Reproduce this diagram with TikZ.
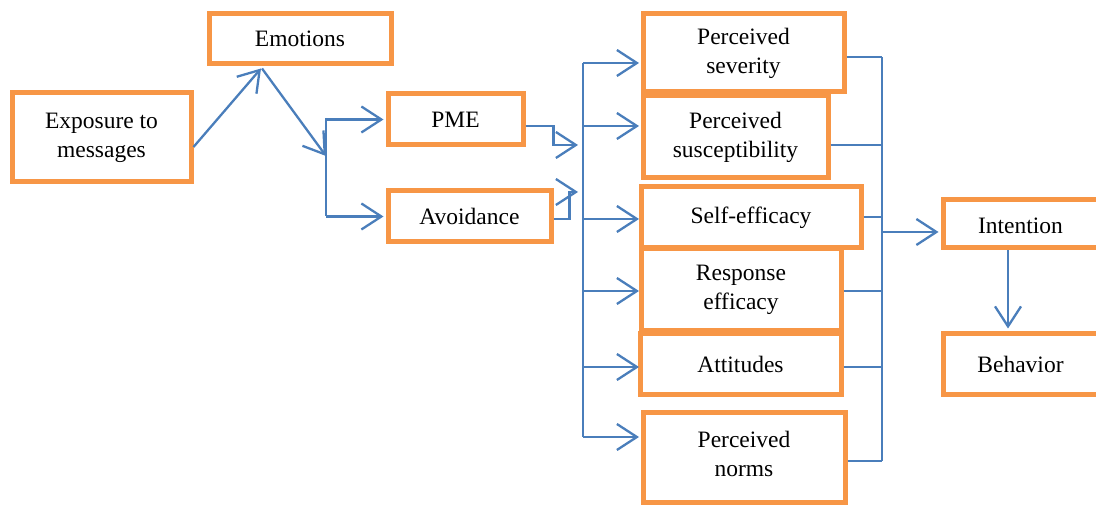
\documentclass[tikz,border=0pt]{standalone}
\usepackage{fontspec}
\setmainfont{Liberation Serif}
\usetikzlibrary{arrows.meta,calc}
\definecolor{boxorange}{HTML}{F79646}
\definecolor{lineblue}{HTML}{4A7EBB}
\tikzset{
  box/.style={draw=boxorange, line width=2.5pt, fill=white, rectangle, align=center, inner sep=0pt,
    font=\fontsize{11.75}{14.5}\selectfont},
  conn/.style={draw=lineblue, line width=1.15pt},
  arr/.style={conn, -{Straight Barb[length=10pt,width=13pt,line width=1.15pt]}},
}
\begin{document}
\begin{tikzpicture}[x=0.5pt,y=-0.5pt]
\useasboundingbox (0,0) rectangle (1096,506);
% boxes
\node[box, minimum width=89.5pt, minimum height=44.5pt] (expo) at (101.5,137.5) {Exposure to\\messages};
\node[box, minimum width=91pt, minimum height=25pt] (emo) at (300,39) {Emotions};
\node[box, minimum width=67.5pt, minimum height=25.5pt] (pme) at (455.5,119.5) {PME};
\node[box, minimum width=81.5pt, minimum height=25.5pt] (avoid) at (469.5,216.5) {Avoidance};
\node[box, minimum width=100.5pt, minimum height=39pt] (sev) at (743.5,53) {Perceived\\severity};
\node[box, minimum width=92.5pt, minimum height=41pt] (sus) at (735.5,137) {Perceived\\susceptibility};
\node[box, minimum width=110pt, minimum height=30.5pt] (self) at (751,217.5) {Self-efficacy};
\node[box, minimum width=100pt, minimum height=41pt] (resp) at (741,290) {Response\\efficacy};
\node[box, minimum width=100.5pt, minimum height=30.5pt] (att) at (740.5,364.5) {Attitudes};
\node[box, minimum width=101pt, minimum height=45pt] (norms) at (744,458) {};
\node[font=\fontsize{11.75}{14.5}\selectfont, align=center] (normstxt) at (744,453.5) {Perceived\\norms};
\node[box, minimum width=77.5pt, minimum height=24pt, text height=10pt, text depth=0pt] (intent) at (1020.5,224) {Intention};
\node[box, minimum width=77.5pt, minimum height=30.5pt] (behav) at (1020.5,364.5) {Behavior};
% junction coordinates
\coordinate (j1) at (326,156);
\coordinate (lbar) at (326,118);
\coordinate (mbar) at (583,63);
\coordinate (rbar) at (882,57);
% left part
\draw[arr] ($(expo.east)+(0,9.5)$) -- ($(emo.south)+(-39,2)$);
\draw[arr] ($(emo.south)+(-38,2)$) -- (j1);
\draw[conn] (lbar) -- (avoid.west -| lbar);
\draw[arr] (pme.west -| lbar) -- ($(pme.west)+(-2,0)$);
\draw[arr] (avoid.west -| lbar) -- ($(avoid.west)+(-2,0)$);
\draw[arr] ($(pme.east)+(0,6.5)$) -- ++(28,0) |- (578,145);
\draw[arr] ($(avoid.east)+(0,2.5)$) -- ++(16,0) |- (578,192);
% middle bar
\draw[conn] (mbar) -- (583,437);
\draw[arr] (mbar) -- (639,63);
\draw[arr] (583,126) -- (639,126);
\draw[arr] (583,219) -- (639,219);
\draw[arr] (583,291) -- (639,291);
\draw[arr] (583,367) -- (639,367);
\draw[arr] (583,437) -- (639,437);
% right bar
\draw[conn] (rbar) -- (882,461);
\draw[conn] (sev.east |- 0,57) -- (rbar);
\draw[conn] (sus.east |- 0,145) -- (882,145);
\draw[conn] (self.east |- 0,217) -- (882,217);
\draw[conn] (resp.east |- 0,291) -- (882,291);
\draw[conn] (att.east |- 0,367) -- (882,367);
\draw[conn] (norms.east |- 0,461) -- (882,461);
\draw[arr] (882,232) -- ($(intent.west |- 0,232)+(-2,0)$);
\draw[arr] (intent.south -| 1008,0) -- ($(behav.north -| 1008,0)+(0,-3)$);
\end{tikzpicture}
\end{document}
